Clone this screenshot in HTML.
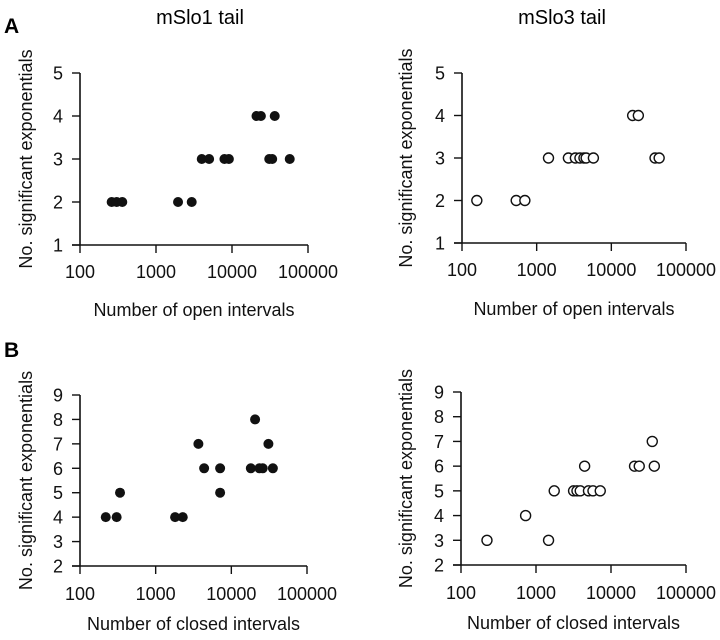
<!DOCTYPE html>
<html><head><meta charset="utf-8"><style>
body{margin:0;background:#fff;}
svg{display:block;font-family:"Liberation Sans",Arial,sans-serif;}
</style></head><body>
<svg id="fig" width="720" height="640" viewBox="0 0 720 640">
<text x="4" y="33" font-size="21" font-weight="bold">A</text>
<text x="4" y="357" font-size="21" font-weight="bold">B</text>
<text x="200" y="24" font-size="20" text-anchor="middle">mSlo1 tail</text>
<text x="562" y="24" font-size="20" text-anchor="middle">mSlo3 tail</text>
</svg>
<script>
const a1X=[261,304,360,1950,2950,4000,5000,7950,9100,30900,33800,57500,21000,24000,36500];
const a1Y=[2,2,2,2,2,3,3,3,3,3,3,3,4,4,4];
const a3X=[158,532,695,1440,2660,3300,3800,4300,4600,5750,38500,43700,19300,23000];
const a3Y=[2,2,2,3,3,3,3,3,3,3,3,3,4,4];
const b1X=[219,305,1806,2280,338,7110,4370,7110,18100,23500,26000,35400,3670,30900,20600];
const b1Y=[4,4,4,4,5,5,6,6,6,6,6,6,7,7,8];
const b3X=[222,1470,727,1750,3170,3520,3890,5010,5750,7190,4450,20600,23800,37800,35500];
const b3Y=[3,3,4,5,5,5,5,5,5,5,6,6,6,6,7];
const xTicks=["100","1000","10000","100000"];
const aYTicks=[1,2,3,4,5];
const bYTicks=[2,3,4,5,6,7,8,9];

const NS="http://www.w3.org/2000/svg";
const svg=document.getElementById('fig');
function mk(tag,attrs,parent){const e=document.createElementNS(NS,tag);for(const k in attrs)e.setAttribute(k,attrs[k]);(parent||svg).appendChild(e);return e;}

function panel(id,x0,x1,yTop,yBot,yTicks,xs,ys,filled,xlabel,yLabelX,tickOff,labelOff){
  const g=mk('g',{});
  
  
  const ymin=yTicks[0],ymax=yTicks[yTicks.length-1];
  const sx=v=>x0+(Math.log10(v)-2)/3*(x1-x0);
  const sy=v=>yBot-(v-ymin)/(ymax-ymin)*(yBot-yTop);
  const ax=mk('path',{d:`M${x0-8},${yBot}H${x1}M${x0},${yTop}V${yBot}`,stroke:'#111','stroke-width':1.6,fill:'none'},g);
  
  
  yTicks.forEach(t=>{
    mk('line',{x1:x0-8,x2:x0,y1:sy(t),y2:sy(t),stroke:'#111','stroke-width':1.4},g);
    const tx=mk('text',{x:x0-17,y:sy(t)+6.5,'font-size':18,'text-anchor':'end',fill:'#111'},g);
    tx.textContent=t;
    
    
  });
  xTicks.forEach((t,i)=>{
    const xx=sx(+t);
    mk('line',{x1:xx,x2:xx,y1:yBot,y2:yBot+8,stroke:'#111','stroke-width':1.4},g);
    const tx=mk('text',{x:xx,y:yBot+tickOff,'font-size':18,'text-anchor':'middle',fill:'#111'},g);
    tx.textContent=t;
    
    
  });
  xs.forEach((v,i)=>{
    const c=mk('circle',{cx:sx(v),cy:sy(ys[i]),r:5,fill:filled?'#111':'#fff',stroke:'#111','stroke-width':filled?0:1.4},g);
    
    
  });
  const xl=mk('text',{x:(x0+x1)/2,y:yBot+labelOff,'font-size':18,'text-anchor':'middle',fill:'#111'},g);
  xl.textContent=xlabel;
  
  
  const cy=(yTop+yBot)/2;
  const yl=mk('text',{x:yLabelX,y:cy,'font-size':18,'text-anchor':'middle',fill:'#111',transform:`rotate(-90 ${yLabelX} ${cy})`},g);
  yl.textContent='No. significant exponentials';
  
  
}
panel('a-mslo1',80,308,73,245,aYTicks,a1X,a1Y,true,'Number of open intervals',32,33,71);
panel('a-mslo3',462,686,73,243,aYTicks,a3X,a3Y,false,'Number of open intervals',412,33,72);
panel('b-mslo1',80,307,395,566,bYTicks,b1X,b1Y,true,'Number of closed intervals',32,34,64);
panel('b-mslo3',461,686,392,565,bYTicks,b3X,b3Y,false,'Number of closed intervals',412,34,64);
</script>
</body></html>
